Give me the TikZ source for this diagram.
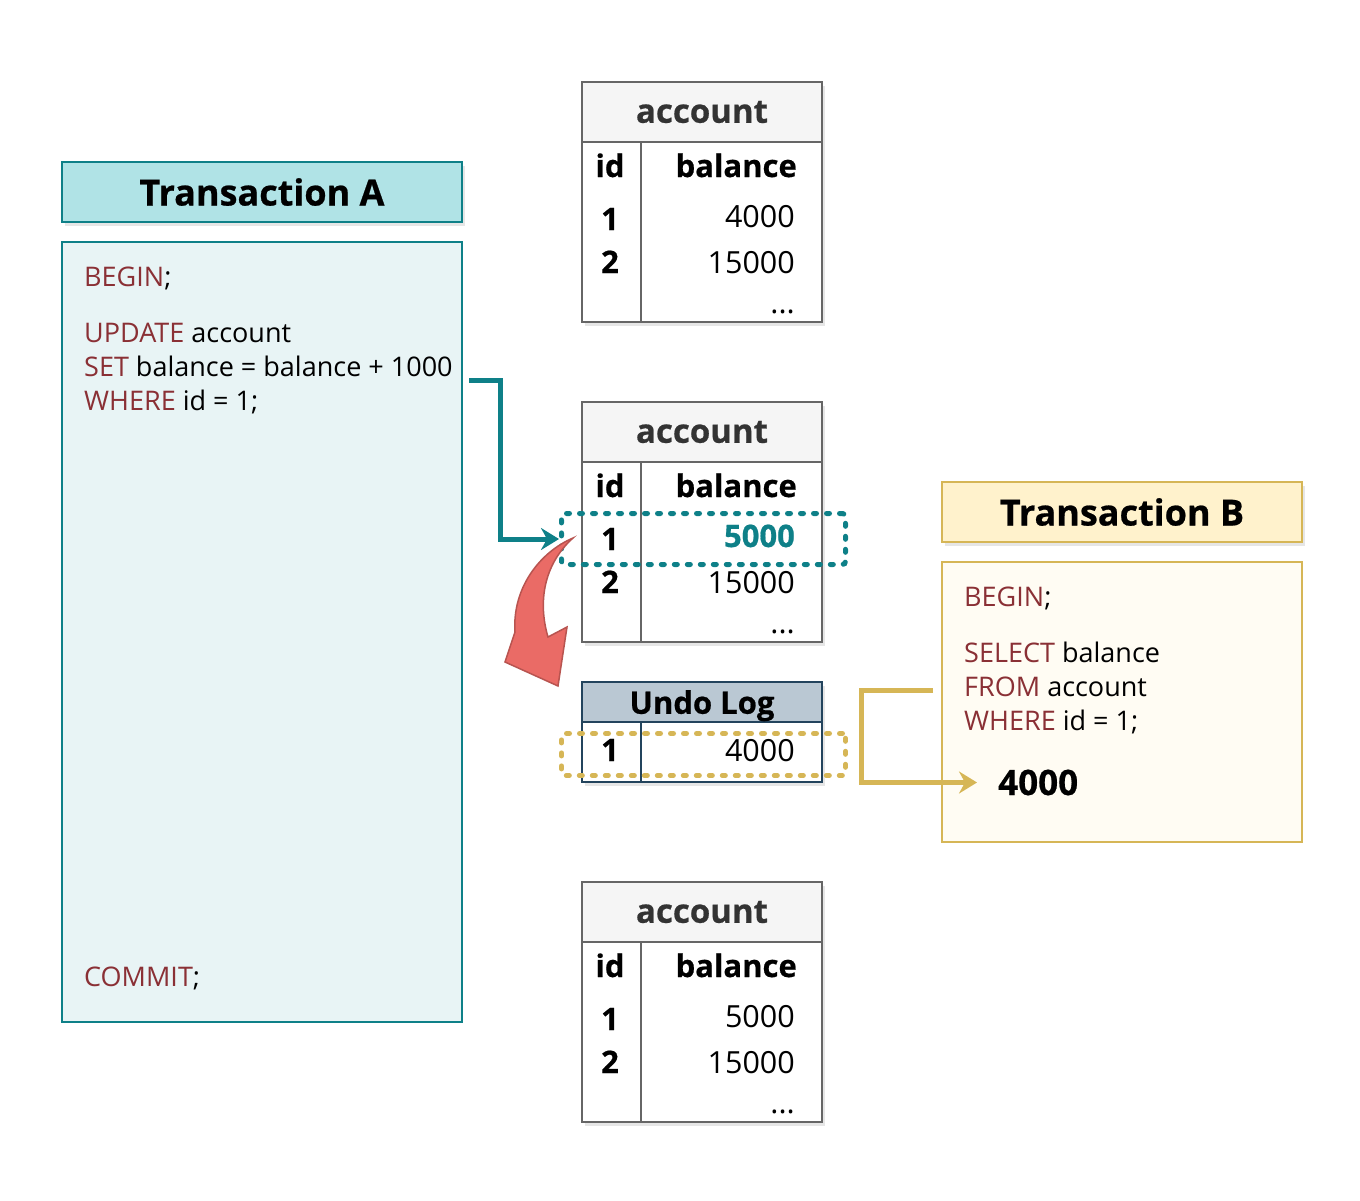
\documentclass[tikz,border=0pt]{standalone}
\usepackage{fontspec}
\setmainfont{Open Sans}[BoldFeatures={FakeBold=0.6}]
\usetikzlibrary{positioning,arrows.meta,shadows}
\definecolor{tealA}{HTML}{0E8088}
\definecolor{tealfill}{HTML}{B0E3E6}
\definecolor{tealpale}{HTML}{E8F4F5}
\definecolor{goldB}{HTML}{D6B656}
\definecolor{goldfill}{HTML}{FFF2CC}
\definecolor{goldpale}{HTML}{FFFCF3}
\definecolor{tblgray}{HTML}{666666}
\definecolor{tblfill}{HTML}{F5F5F5}
\definecolor{undofill}{HTML}{BAC8D3}
\definecolor{undoline}{HTML}{23445D}
\definecolor{kwred}{HTML}{8A3035}
\definecolor{redfill}{HTML}{EA6B66}
\definecolor{redline}{HTML}{B85450}
\newcommand{\sqlkw}[1]{{\color{kwred}#1}}
\tikzset{shade/.style={drop shadow={opacity=0.2,shadow xshift=3pt,shadow yshift=-4pt}},
title/.style={draw,line width=2pt,anchor=north west,minimum width=400pt,minimum height=60pt,font=\fontsize{36}{42}\selectfont\bfseries,shade},
panel/.style={draw,line width=2pt,anchor=north west,minimum width=400pt},
code/.style={anchor=base west,inner sep=0pt,font=\fontsize{27}{32}\selectfont},
tbl/.style={draw=tblgray,line width=2pt,fill=white,anchor=north west,minimum width=240pt,minimum height=240pt,shade},
tblhead/.style={draw=tblgray,line width=2pt,fill=tblfill,anchor=north west,minimum width=240pt,minimum height=60pt,text=black!80,font=\fontsize{33}{38}\selectfont\bfseries},
colline/.style={draw=tblgray,line width=2pt},
cell/.style={inner sep=0pt,font=\fontsize{31}{36}\selectfont\bfseries},
idcell/.style={cell,anchor=base},
valcell/.style={inner sep=0pt,anchor=base east,font=\fontsize{30.5}{36}\selectfont},
newval/.style={cell,anchor=base east,text=tealA},
hilite/.style={draw,line width=5pt,dash pattern=on 3pt off 10pt,line cap=round,rounded corners=3pt,anchor=north west,minimum width=284pt},
flow/.style={line width=5pt,-{Stealth[length=18pt,width=22pt,inset=6pt]}}}

\begin{document}
\begin{tikzpicture}[x=1pt,y=-1pt]
\useasboundingbox (0,0) rectangle (1360,1200);
% transaction A
\node[title,draw=tealA,fill=tealfill] (txA) at (61,161) {Transaction A};
\node[panel,draw=tealA,fill=tealpale,minimum height=780pt] (bodyA) at (61,241) {};
\node[code] (a-begin) at (84,286) {\sqlkw{BEGIN};};
\node[code] (a-update) at (84,342) {\sqlkw{UPDATE} account};
\node[code] (a-set) at (84,376) {\sqlkw{SET} balance = balance + 1000};
\node[code] (a-where) at (84,410) {\sqlkw{WHERE} id = 1;};
\node[code] (a-commit) at (84,986) {\sqlkw{COMMIT};};
% account table: before, during, after
\foreach \t/\y/\v/\vs in {before/81/4000/valcell,during/401/5000/newval,after/881/5000/valcell}{
  \node[tbl] (\t) at (581,\y) {};
  \node[tblhead] (\t-head) at (581,\y) {account};
  \draw[colline] ([xshift=60pt]\t-head.south west) -- ([xshift=60pt]\t.south west);
  \node[idcell] (\t-idh) at (610,\y+96) {id};
  \node[cell,anchor=base east] (\t-balh) at (797,\y+96) {balance};
  \node[idcell] (\t-id1) at (610,\y+149) {1};
  \node[\vs] (\t-v1) at (795,\y+146) {\v};
  \node[idcell] (\t-id2) at (610,\y+192) {2};
  \node[valcell] (\t-v2) at (795,\y+192) {15000};
  \node[valcell] (\t-more) at (795,\y+232) {...};
}
% undo log
\node[tbl,draw=undoline,minimum height=100pt] (undo) at (581,681) {};
\node[tblhead,draw=undoline,fill=undofill,text=black,minimum height=40pt,text depth=0pt,font=\fontsize{31}{36}\selectfont\bfseries] (undo-head) at (581,681) {Undo Log};
\draw[colline,draw=undoline] ([xshift=60pt]undo-head.south west) -- ([xshift=60pt]undo.south west);
\node[idcell] (undo-id) at (610,761) {1};
\node[valcell] (undo-v) at (795,761) {4000};
% highlighted rows
\node[hilite,draw=tealA,minimum height=51pt] (newrow) at (559,511) {};
\node[hilite,draw=goldB,minimum height=42pt] (oldrow) at (559,731) {};
% transaction B
\node[title,draw=goldB,fill=goldfill,minimum width=360pt] (txB) at (941,481) {Transaction B};
\node[panel,draw=goldB,fill=goldpale,minimum width=360pt,minimum height=280pt] (bodyB) at (941,561) {};
\node[code] (b-begin) at (964,606) {\sqlkw{BEGIN};};
\node[code] (b-select) at (964,662) {\sqlkw{SELECT} balance};
\node[code] (b-from) at (964,696) {\sqlkw{FROM} account};
\node[code] (b-where) at (964,730) {\sqlkw{WHERE} id = 1;};
\node[anchor=base west,inner sep=0pt,font=\fontsize{35}{40}\selectfont\bfseries] (b-result) at (998,795) {4000};
% arrows
\coordinate (a-out) at (469,380);
\coordinate (b-out) at (933,690);
\draw[flow,tealA] (a-out) -- ++(31,0) |- (newrow.west);
\draw[flow,goldB] (b-out) -- ++(-72,0) |- ([xshift=-21pt]b-result.west);
\filldraw[fill=redfill,draw=redline,line width=1.5pt] (573,538) .. controls (540,552) and (512,588) .. (515,632) -- (505,662) -- (558,686) -- (567,627) -- (548,637) .. controls (538,603) and (543,565) .. (573,538) -- cycle;
\end{tikzpicture}
\end{document}
